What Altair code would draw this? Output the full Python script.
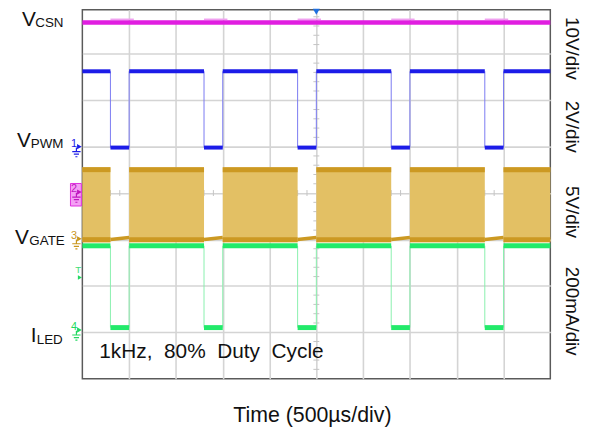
import altair as alt
import pandas as pd

# ---------------- values (screen divisions) ----------------
x_grid = [1, 2, 3, 4, 5, 6, 7, 8, 9]          # vertical graticule (time, div)
y_grid = [1, 2, 3, 4, 5, 6, 7]                # horizontal graticule (div)
t_fall = [0.6, 2.6, 4.6, 6.6, 8.6]            # PWM falling edges (div)
t_rise = [1.0, 3.0, 5.0, 7.0, 9.0]            # PWM rising edges (div)
t_start, t_end = 0.0, 10.0

vcsn_level = 7.675                            # V_CSN trace level (div)
vcsn_bump = 7.745
pwm_high, pwm_low = 6.624, 4.98               # V_PWM levels (div)
gate_top, gate_top_edge = 4.558, 4.504        # V_GATE switching band (div)
gate_bot_edge, gate_bot = 2.996, 2.934
gate_off_start, gate_off_end = 3.0, 3.04      # V_GATE while PWM low (div)
iled_high, iled_low = 2.863, 1.10             # I_LED levels (div)

gnd_labels = ["1", "2", "3", "4"]
gnd_levels = [5.0, 4.02, 3.013, 1.047]
gnd_colors = ["#1c1ce8", "#c018c0", "#c9961c", "#22d860"]
trig_level = 2.18
trig_time = 5.0
center_x, center_y = 5.0, 4.0

FONT = "Liberation Sans"
PX_X, PX_Y = 47.2, 46.8
Y_TOP = (380 - 8) / PX_Y

# ---------------- derived tables ----------------
high_seg = pd.DataFrame({"x": [t_start] + t_rise, "x2": t_fall + [t_end]})
low_seg = pd.DataFrame({"x": t_fall, "x2": t_rise})
edges = pd.DataFrame({"x": sorted(t_fall + t_rise)})

xs = alt.Scale(domain=[0, 10], nice=False, zero=False)
ys = alt.Scale(domain=[0, Y_TOP], nice=False, zero=False)
xaxis = alt.Axis(values=x_grid, grid=True, labels=False, ticks=False, domain=False, title=None,
                 gridColor="#d4d4d4", gridWidth=1.6)
yaxis = alt.Axis(values=y_grid, grid=True, labels=False, ticks=False, domain=False, title=None,
                 gridColor="#d4d4d4", gridWidth=1.6)


def X(f="x"):
    return alt.X(f"{f}:Q", scale=xs, axis=xaxis)


def Y(f="y"):
    return alt.Y(f"{f}:Q", scale=ys, axis=yaxis)


def hrule(df, level, color, width):
    d = df.copy()
    d["y"] = level
    return alt.Chart(d).mark_rule(color=color, strokeWidth=width, strokeCap="butt").encode(
        x=X(), x2="x2:Q", y=Y())


def vrule(df, lo, hi, color, width):
    d = df.copy()
    d["y"] = lo
    d["y2"] = hi
    return alt.Chart(d).mark_rule(color=color, strokeWidth=width).encode(x=X(), y=Y(), y2="y2:Q")


layers = []

# graticule (grid from axes) + centre minor ticks
tick_pos_x = [i * 0.2 for i in range(1, 50) if i % 5]
tick_pos_y = [i * 0.2 for i in range(1, 40) if i % 5]
tx = pd.DataFrame({"x": tick_pos_x, "y": center_y - 3 / PX_Y, "y2": center_y + 3 / PX_Y})
ty = pd.DataFrame({"y": tick_pos_y, "x": center_x - 3 / PX_X, "x2": center_x + 3 / PX_X})
layers.append(alt.Chart(tx).mark_rule(color="#c4c4c4", strokeWidth=1).encode(x=X(), y=Y(), y2="y2:Q"))
layers.append(alt.Chart(ty).mark_rule(color="#c4c4c4", strokeWidth=1).encode(x=X(), x2="x2:Q", y=Y()))

# V_CSN
layers.append(hrule(pd.DataFrame({"x": [t_start], "x2": [t_end]}), vcsn_level, "#e01ee0", 4.5))
bump = pd.DataFrame({"x": t_fall, "x2": [r + 0.1 for r in t_rise]})
layers.append(hrule(bump, vcsn_bump, "#f0a0f0", 1.5))

# V_PWM
layers.append(vrule(edges, pwm_low, pwm_high, "#7a7af2", 1))
layers.append(hrule(high_seg, pwm_high, "#1c1ce8", 4))
layers.append(hrule(low_seg, pwm_low, "#1c1ce8", 4))

# I_LED
layers.append(vrule(edges, iled_low, iled_high, "#8af0ae", 1))
layers.append(hrule(high_seg, iled_high, "#22ea6a", 5))
layers.append(hrule(low_seg, iled_low, "#22ea6a", 5))

# V_GATE
band = high_seg.copy()
band["y"] = gate_bot
band["y2"] = gate_top
layers.append(alt.Chart(band).mark_rect(color="#e3c064").encode(x=X(), x2="x2:Q", y=Y(), y2="y2:Q"))
layers.append(hrule(high_seg, gate_top_edge, "#cc9922", 5))
layers.append(hrule(high_seg, gate_bot_edge, "#cc9922", 5))
off = low_seg.copy()
off["y"] = gate_off_start
off["y2"] = gate_off_end
layers.append(alt.Chart(off).mark_rule(color="#cc9922", strokeWidth=3.5, strokeCap="butt").encode(
    x=X(), x2="x2:Q", y=Y(), y2="y2:Q"))

# ground markers on the left edge
gm = pd.DataFrame({"lab": gnd_labels, "y": gnd_levels, "c": gnd_colors})
box = pd.DataFrame({"y": [gnd_levels[1] + 8.7 / PX_Y], "y2": [gnd_levels[1] - 14 / PX_Y]})
layers.append(alt.Chart(box).mark_rect(fill="#f4a0f4", stroke="#e030e0", strokeWidth=1).encode(
    x=alt.value(-12), x2=alt.value(-1), y=Y(), y2="y2:Q"))
cscale = alt.Scale(domain=gnd_colors, range=gnd_colors)
layers.append(alt.Chart(gm).mark_text(font=FONT, fontSize=11, align="center", baseline="alphabetic").encode(
    x=alt.value(-8.5), y=Y(), text="lab:N", color=alt.Color("c:N", scale=cscale, legend=None)))
layers.append(alt.Chart(gm).mark_point(shape="triangle-right", filled=True, size=30, opacity=1).encode(
    x=alt.value(-3), y=Y(), color=alt.Color("c:N", scale=cscale, legend=None)))
ground_path = "M0,-1L0,-0.2M-0.8,-0.2L0.8,-0.2M-0.5,0.3L0.5,0.3M-0.2,0.8L0.2,0.8"
layers.append(alt.Chart(gm).mark_point(shape=ground_path, filled=False, size=110, strokeWidth=1.2,
                                       yOffset=6, opacity=1).encode(
    x=alt.value(-6), y=Y(), color=alt.Color("c:N", scale=cscale, legend=None)))
trig = pd.DataFrame({"y": [trig_level]})
layers.append(alt.Chart(trig).mark_point(shape="triangle-right", filled=True, size=22, color="#22d860",
                                         opacity=1).encode(x=alt.value(-2.5), y=Y()))
layers.append(alt.Chart(trig).mark_text(text="T", font=FONT, fontSize=10, color="#44dd77",
                                        baseline="alphabetic", dy=-5).encode(x=alt.value(-4), y=Y()))

# trigger position marker at top
top = pd.DataFrame({"x": [trig_time]})
layers.append(alt.Chart(top).mark_point(shape="triangle-down", filled=True, size=50, color="#1f6fe0",
                                        opacity=1).encode(x=X(), y=alt.value(2)))

# ---------------- text ----------------
one = pd.DataFrame({"a": [0]})


def label(text, px, py, size, align="left", baseline="alphabetic", angle=0):
    return alt.Chart(one).mark_text(text=text, font=FONT, fontSize=size, align=align,
                                    baseline=baseline, angle=angle, color="#111111").encode(
        x=alt.value(px - 83), y=alt.value(py - 8))


NB = "\u00a0"
layers += [
    label("V", 22, 24, 21), label("CSN", 35.5, 25, 13.5),
    label("V", 17, 146, 21), label("PWM", 31, 147, 13.5),
    label("V", 15, 244, 21), label("GATE", 29.5, 245, 13.5),
    label("I", 31, 343, 21), label("LED", 37, 345, 13.5),
    label("10V/div", 577, 47, 19, align="center", baseline="middle", angle=90),
    label("2V/div", 577, 126, 19, align="center", baseline="middle", angle=90),
    label("5V/div", 577, 212, 19, align="center", baseline="middle", angle=90),
    label("200mA/div", 577, 312, 19, align="center", baseline="middle", angle=90),
    label(f"1kHz,{NB}{NB}80%{NB}{NB}Duty{NB}{NB}Cycle", 100, 359, 21),
    label("Time (500\u00b5s/div)", 315, 424, 21.5, align="center"),
]

chart = alt.layer(*layers).properties(
    width=472, height=372,
    padding={"left": 75, "top": 0, "right": 37, "bottom": 56},
    autosize=alt.AutoSizeParams(type="none"),
    background="white",
).configure_view(stroke="#5a5a5a", strokeWidth=1.5)

chart.save("out.html", embed_options={"renderer": "svg", "actions": False})
